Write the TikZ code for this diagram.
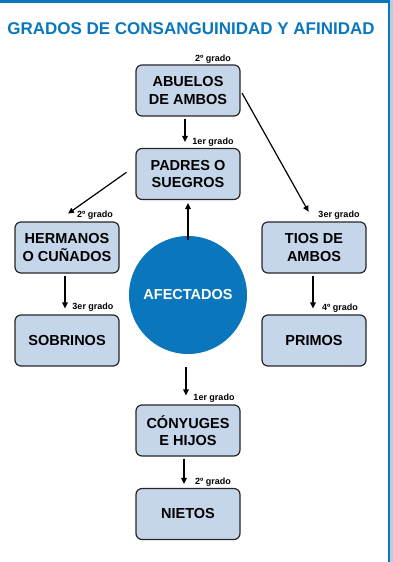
\documentclass[tikz,border=0pt]{standalone}
\usepackage{fontspec}
\setmainfont{Liberation Sans}
\usepackage{xcolor}
\usetikzlibrary{
    arrows.meta,
    positioning
}
\definecolor{azul}{HTML}{0A77BD}
\definecolor{azulclaro}{HTML}{C5D5EA}
\definecolor{franja}{HTML}{B9CCE4}

\begin{document}
\begin{tikzpicture}[x=1pt, y=-1pt,
        box/.style={draw=black!85, line width=1.2pt, rounded corners=6pt, fill=azulclaro,
            minimum width=104pt, minimum height=51pt, align=center,
            font=\fontsize{14.5}{17.5}\selectfont\bfseries},
        grado/.style={font=\fontsize{9}{11}\selectfont\bfseries, inner sep=0pt},
        flecha/.style={-{Triangle[length=6pt, width=5.5pt]}, line width=1.2pt}]
                        \useasboundingbox (0, 0) rectangle (393, 562);
                        % marco
                        \fill[franja] (390, 0) rectangle (393, 562);
                        \draw[azul, line width=2.6pt] (0, 1.3) -- (389, 1.3);
                        \draw[azul, line width=2.4pt] (388.8, 0) -- (388.8, 562);

                        \node[azul, font=\fontsize{17}{20}\selectfont\bfseries] (titulo) at (191, 29) {GRADOS DE CONSANGUINIDAD Y AFINIDAD};

                        \node[box] (abuelos) at (188, 90.5) {ABUELOS\\DE AMBOS};
                        \node[box] (padres) at (188, 174) {PADRES O\\SUEGROS};
                        \node[box] (hermanos) at (67, 247.5) {HERMANOS\\O CUÑADOS};
                        \node[box] (tios) at (314, 247.5) {TIOS DE\\AMBOS};
                        \node[box] (sobrinos) at (67, 340.5) {SOBRINOS};
                        \node[box] (primos) at (314, 340.5) {PRIMOS};
                        \node[box] (conyuges) at (188, 430.5) {CÓNYUGES\\E HIJOS};
                        \node[box] (nietos) at (188, 514) {NIETOS};
                        \node[circle, fill=azul, minimum size=118pt, inner sep=0pt, text=white,
                            font=\fontsize{14.5}{17.5}\selectfont\bfseries] (afectados) at (188, 295) {AFECTADOS};

                        \node[grado] (g1) at (213, 59) {2º grado};
                        \node[grado] (g2) at (213, 142) {1er grado};
                        \node[grado] (g3) at (95, 215) {2º grado};
                        \node[grado] (g4) at (339, 215) {3er grado};
                        \node[grado] (g5) at (93, 307) {3er grado};
                        \node[grado] (g6) at (340, 308) {4º grado};
                        \node[grado] (g7) at (214, 398) {1er grado};
                        \node[grado] (g8) at (213, 482) {2º grado};

                        \path[flecha, shorten <=2pt, shorten >=6pt]
                        ([xshift=-3pt]abuelos.south) edge ([xshift=-3pt]padres.north)
                        (abuelos.east) edge[shorten <=3pt, shorten >=11pt] (tios.north)
                        ([yshift=8pt]padres.west) edge[shorten <=11pt, shorten >=13.5pt] ([xshift=-10pt]hermanos.north)
                        (afectados.north) edge[shorten <=-4pt, shorten >=3pt] (padres.south)
                        ([xshift=-2pt]hermanos.south) edge ([xshift=-2pt]sobrinos.north)
                        ([xshift=-1pt]tios.south) edge ([xshift=-1pt]primos.north)
                        ([xshift=-2pt]afectados.south) edge[shorten <=13pt, shorten >=9pt] ([xshift=-2pt]conyuges.north)
                        ([xshift=-4pt]conyuges.south) edge[shorten >=4pt] ([xshift=-4pt]nietos.north);
                    \end{tikzpicture}
\end{document}
